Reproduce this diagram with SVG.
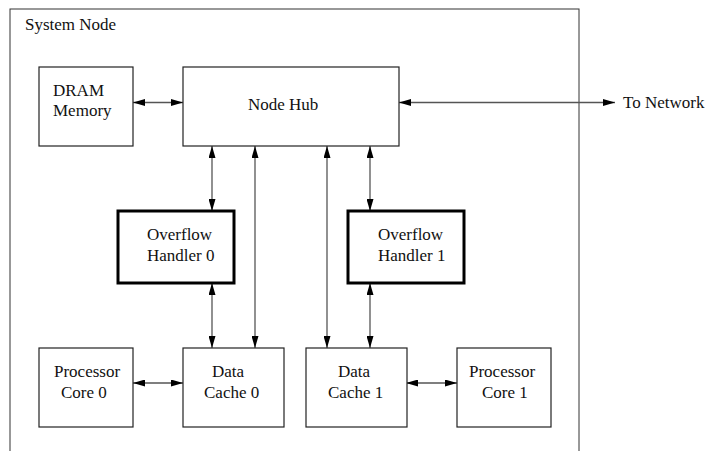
<svg xmlns="http://www.w3.org/2000/svg" width="707" height="451" viewBox="0 0 707 451">
<defs>
<marker id="ah" markerUnits="userSpaceOnUse" markerWidth="12" markerHeight="7" refX="12" refY="3.5" orient="auto-start-reverse" viewBox="0 0 12 7">
<path d="M0,0 L12,3.5 L0,7 z" fill="#000"/>
</marker>
</defs>
<style>
text{font-family:"Liberation Serif","Times New Roman",serif;font-size:17px;fill:#111}
.box{fill:#fff;stroke:#222;stroke-width:1.2}
.thick{fill:#fff;stroke:#000;stroke-width:3}
.outer{fill:none;stroke:#333;stroke-width:1}
.conn{stroke:#555;stroke-width:1.3;fill:none;marker-start:url(#ah);marker-end:url(#ah)}
</style>
<g id="system-node">
<rect class="outer" x="10" y="9" width="569" height="460"/>
<text x="25" y="30">System Node</text>
</g>
<g id="connectors">
<line class="conn" x1="133" y1="102.5" x2="183" y2="102.5"/>
<line class="conn" x1="399" y1="102.5" x2="615" y2="102.5"/>
<line class="conn" x1="212" y1="146" x2="212" y2="211"/>
<line class="conn" x1="370" y1="146" x2="370" y2="211"/>
<line class="conn" x1="212" y1="283" x2="212" y2="348"/>
<line class="conn" x1="370" y1="283" x2="370" y2="348"/>
<line class="conn" x1="255" y1="146" x2="255" y2="348"/>
<line class="conn" x1="327" y1="146" x2="327" y2="348"/>
<line class="conn" x1="133" y1="383" x2="183" y2="383"/>
<line class="conn" x1="406" y1="383" x2="457" y2="383"/>
</g>
<g id="dram">
<rect class="box" x="39" y="67" width="94" height="79"/>
<text x="53" y="96">DRAM</text>
<text x="53" y="116">Memory</text>
</g>
<g id="node-hub">
<rect class="box" x="183" y="67" width="216" height="79"/>
<text x="248" y="110">Node Hub</text>
</g>
<g id="network-label">
<text x="623" y="108">To Network</text>
</g>
<g id="overflow-handler-0">
<rect class="thick" x="118" y="211" width="116" height="72"/>
<text x="147" y="240">Overflow</text>
<text x="147" y="261">Handler 0</text>
</g>
<g id="overflow-handler-1">
<rect class="thick" x="348" y="211" width="116" height="72"/>
<text x="378" y="240">Overflow</text>
<text x="378" y="261">Handler 1</text>
</g>
<g id="processor-core-0">
<rect class="box" x="39" y="348" width="94" height="79"/>
<text x="54" y="377">Processor</text>
<text x="61" y="398">Core 0</text>
</g>
<g id="data-cache-0">
<rect class="box" x="183" y="348" width="101" height="79"/>
<text x="212" y="377">Data</text>
<text x="204" y="398">Cache 0</text>
</g>
<g id="data-cache-1">
<rect class="box" x="306" y="348" width="101" height="79"/>
<text x="338" y="377">Data</text>
<text x="328" y="398">Cache 1</text>
</g>
<g id="processor-core-1">
<rect class="box" x="457" y="348" width="94" height="79"/>
<text x="469" y="377">Processor</text>
<text x="482" y="398">Core 1</text>
</g>
</svg>
